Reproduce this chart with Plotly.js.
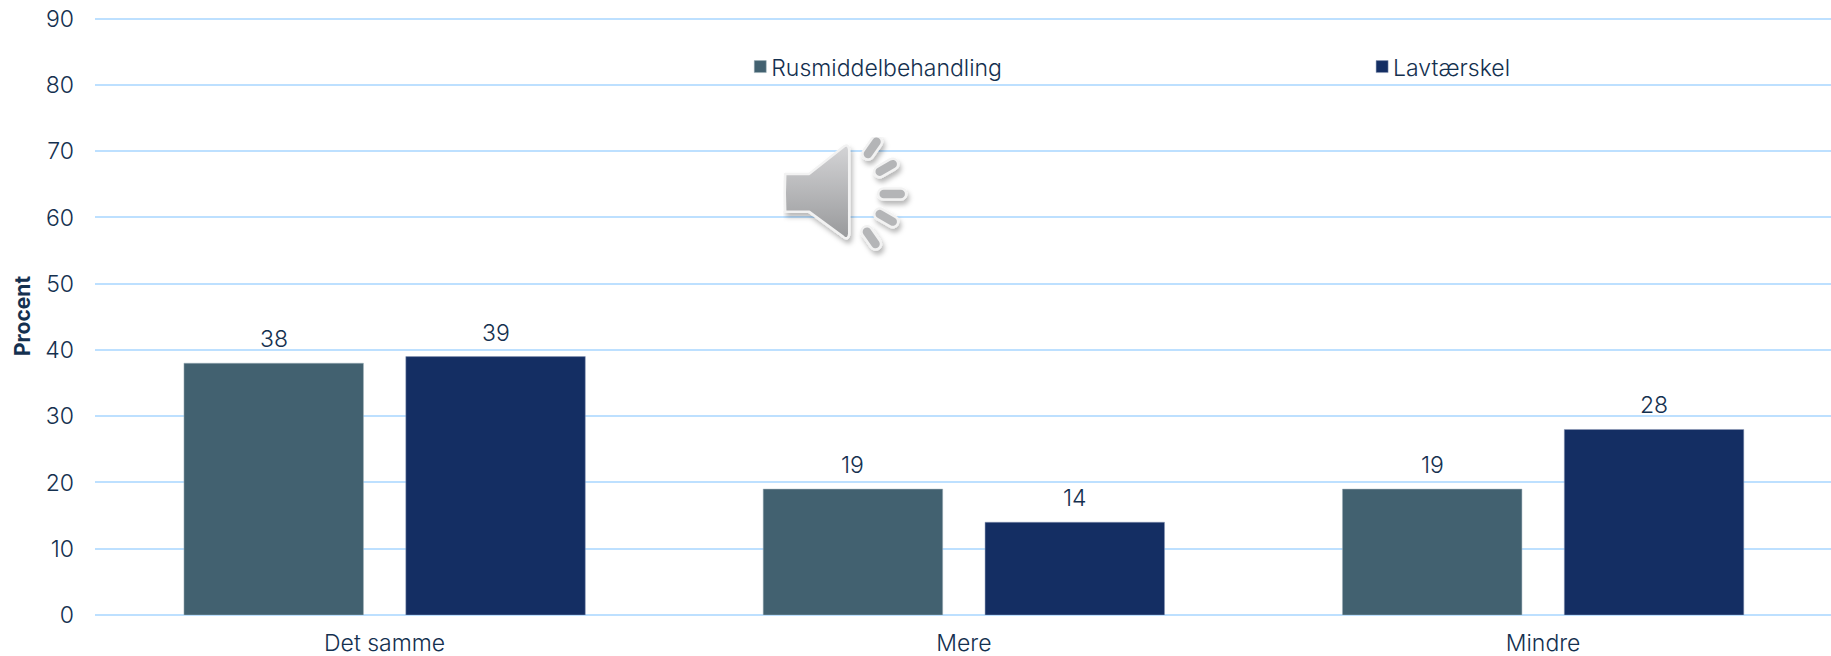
<!DOCTYPE html>
<html>
<head>
<meta charset="utf-8">
<script src="https://cdn.plot.ly/plotly-3.0.1.min.js"></script>
<style>
html,body{margin:0;padding:0;background:#fff;overflow:hidden}
/* the reference sets each legend label tight against its swatch */
#chart text.legendtext,#chart text.legend2text{transform:translateX(-9px)}
</style>
</head>
<body>
<div id="chart" style="width:1831px;height:656px"></div>
<script>
const categories = ["Det samme", "Mere", "Mindre"];
const rusmiddel = [38, 19, 19];
const lavtaerskel = [39, 14, 28];
const seriesNames = ["Rusmiddelbehandling", "Lavtærskel"];
const colors = ["#426170", "#142E63"];
const yTicks = [0, 10, 20, 30, 40, 50, 60, 70, 80, 90];
const ink = "#14304F";
const fontFamily = "Inter, Lato, sans-serif";
const slotOffset = 0.1915;

const speaker = `<svg xmlns="http://www.w3.org/2000/svg" width="134" height="132" viewBox="0 0 134 132">
<defs><linearGradient id="g" x1="0" y1="0" x2="0" y2="1"><stop offset="0" stop-color="#d4d4d6"/><stop offset="1" stop-color="#98999b"/></linearGradient>
<filter id="s" x="-10%" y="-10%" width="125%" height="125%"><feDropShadow dx="2" dy="4" stdDeviation="2.5" flood-color="#000" flood-opacity="0.28"/></filter></defs>
<g filter="url(#s)" stroke="#f2f2f2" stroke-width="2.5" stroke-linejoin="round">
<path fill="url(#g)" d="M2 37 L26 37 L60 10 Q65 6 66 13 L66 97 Q65 104 60 100 L26 75 L2 75 Q1 56 2 37 Z"/>
<g fill="#b4b5b7">
<rect x="83.5" y="-2" width="11" height="26" rx="5.5" transform="rotate(35 89 11)"/>
<rect x="97.5" y="18" width="11" height="26" rx="5.5" transform="rotate(60 103 31)"/>
<rect x="95" y="51.5" width="28" height="11" rx="5.5"/>
<rect x="97.5" y="68" width="11" height="26" rx="5.5" transform="rotate(120 103 81)"/>
<rect x="82.5" y="88" width="11" height="26" rx="5.5" transform="rotate(145 88 101)"/>
</g></g></svg>`;

const traces = [
  {type: "bar", name: seriesNames[0], legend: "legend", showlegend: true, x: categories, y: rusmiddel, marker: {color: colors[0], line: {color: "#9fb0b8", width: 0.5}}, hoverinfo: "x+y"},
  {type: "bar", name: seriesNames[1], legend: "legend2", showlegend: true, x: categories, y: lavtaerskel, marker: {color: colors[1], line: {color: "#8c9ab8", width: 0.5}}, hoverinfo: "x+y"}
];

const textFont = {family: fontFamily, size: 23, color: ink, weight: 300};

const valueLabels = [];
[rusmiddel, lavtaerskel].forEach((vals, s) => vals.forEach((v, i) => valueLabels.push({
  x: i + (s === 0 ? -slotOffset : slotOffset), y: v, xref: "x", yref: "y", text: String(v),
  showarrow: false, yanchor: "bottom", yshift: 8, font: textFont
})));

const legendBase = {orientation: "h", xref: "paper", yref: "paper", xanchor: "left", yanchor: "middle",
  itemwidth: 30, bgcolor: "rgba(0,0,0,0)", font: textFont};

const layout = {
  width: 1831, height: 656, showlegend: true,
  margin: {l: 94.6, r: 0, t: 17, b: 40.6, pad: 0},
  paper_bgcolor: "#ffffff", plot_bgcolor: "#ffffff",
  font: textFont,
  barmode: "group", bargap: 0.234, bargroupgap: 0.191,
  xaxis: {type: "category", range: [-0.5, 2.497], showgrid: false, zeroline: false, showline: false, ticks: "",
    ticklabelstandoff: 12, tickfont: textFont, fixedrange: true},
  yaxis: {range: [0, 90.25], tickvals: yTicks, gridcolor: "#BDE0FF", gridwidth: 2, zeroline: true, zerolinecolor: "#BDE0FF", zerolinewidth: 2,
    showline: false, ticks: "", ticklabelstandoff: 20, tickfont: textFont, fixedrange: true,
    title: {text: "<b>Procent</b>", font: {family: fontFamily, size: 21, color: ink}, standoff: 8}},
  legend: Object.assign({}, legendBase, {x: (740 - 94.6) / 1736.4, y: 0.917}),
  legend2: Object.assign({}, legendBase, {x: (1362 - 94.6) / 1736.4, y: 0.917}),
  annotations: valueLabels,
  images: [{source: "data:image/svg+xml;utf8," + encodeURIComponent(speaker), xref: "paper", yref: "paper",
    x: (783 - 94.6) / 1736.4, y: 1 - (137 - 17) / 598.4, sizex: 134 / 1736.4, sizey: 132 / 598.4, sizing: "stretch", xanchor: "left", yanchor: "top", layer: "above"}]
};

Plotly.newPlot("chart", traces, layout, {displayModeBar: false, responsive: false});
</script>
</body>
</html>
